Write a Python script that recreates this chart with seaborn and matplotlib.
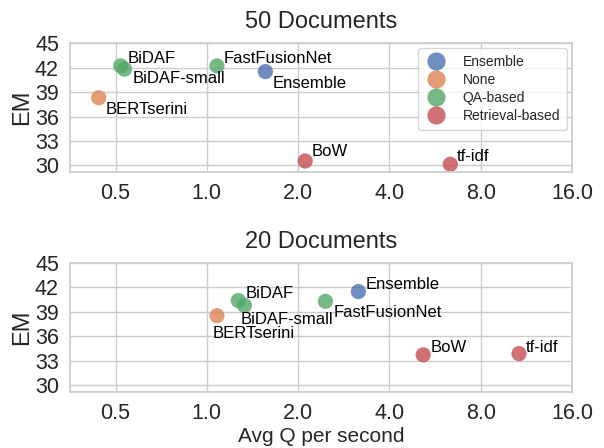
import pandas as pd
import matplotlib.pyplot as plt
import seaborn as sns
from matplotlib.ticker import FixedLocator, FixedFormatter, NullLocator

# Datos
models = ["BiDAF", "BiDAF-small", "BERTserini", "FastFusionNet", "Ensemble", "BoW", "tf-idf"]
kinds = ["QA-based", "QA-based", "None", "QA-based", "Ensemble", "Retrieval-based", "Retrieval-based"]

speed_50 = [0.52, 0.535, 0.44, 1.08, 1.56, 2.11, 6.35]
em_50 = [42.2, 41.8, 38.3, 42.2, 41.5, 30.55, 30.15]

speed_20 = [1.27, 1.33, 1.08, 2.46, 3.16, 5.17, 10.7]
em_20 = [40.4, 39.8, 38.55, 40.3, 41.5, 33.75, 33.9]

hue_order = ["Ensemble", "None", "QA-based", "Retrieval-based"]

# posiciones de las etiquetas (offset en puntos)
offs_50 = [(5, 2), (6, -10), (5, -11.5), (4.5, 2), (5, -11.5), (5, 3.5), (4.5, 2)]
offs_20 = [(5, 2), (-3, -13.7), (-3, -16), (6, -11), (5, 2), (5.5, 2), (5, 1.5)]

sns.set_theme(style="whitegrid")
plt.rcParams["font.family"] = ["Liberation Sans", "DejaVu Sans"]

fig = plt.figure(figsize=(6.04, 4.48), dpi=100)
ax1 = fig.add_axes([0.116, 0.616, 0.831, 0.288])
ax2 = fig.add_axes([0.116, 0.125, 0.831, 0.288])

panels = [
    (ax1, speed_50, em_50, offs_50, "50 Documents", True),
    (ax2, speed_20, em_20, offs_20, "20 Documents", False),
]

for ax, sp, em, offs, title, show_leg in panels:
    df = pd.DataFrame({"speed": sp, "EM": em, "model": models, "kind": kinds})
    sns.scatterplot(data=df, x="speed", y="EM", hue="kind", hue_order=hue_order,
                    palette="deep", s=120, alpha=0.8, edgecolor="none",
                    legend=show_leg, ax=ax)
    for i, row in df.iterrows():
        ax.annotate(row["model"], (row["speed"], row["EM"]), xytext=offs[i],
                    textcoords="offset points", fontsize=12, color="black")
    ax.set_xscale("log", base=2)
    ax.set_xlim(0.354, 16)
    ax.set_ylim(29.2, 45)
    ax.xaxis.set_major_locator(FixedLocator([0.5, 1, 2, 4, 8, 16]))
    ax.xaxis.set_major_formatter(FixedFormatter(["0.5", "1.0", "2.0", "4.0", "8.0", "16.0"]))
    ax.xaxis.set_minor_locator(NullLocator())
    ax.set_yticks([30, 33, 36, 39, 42, 45])
    ax.tick_params(labelsize=15.5, pad=2)
    ax.set_title(title, fontsize=17, color="#262626", pad=11)
    ax.set_ylabel("EM", fontsize=17, labelpad=1)
    ax.set_xlabel("")

ax2.set_xlabel("Avg Q per second", fontsize=15, labelpad=2)

leg = ax1.legend(loc="upper right", fontsize=10, markerscale=1.2, frameon=True,
                 borderpad=0.5, labelspacing=0.3, handlelength=1.6,
                 handletextpad=1.1, borderaxespad=0.35)

fig.savefig("out.png", dpi=100)
